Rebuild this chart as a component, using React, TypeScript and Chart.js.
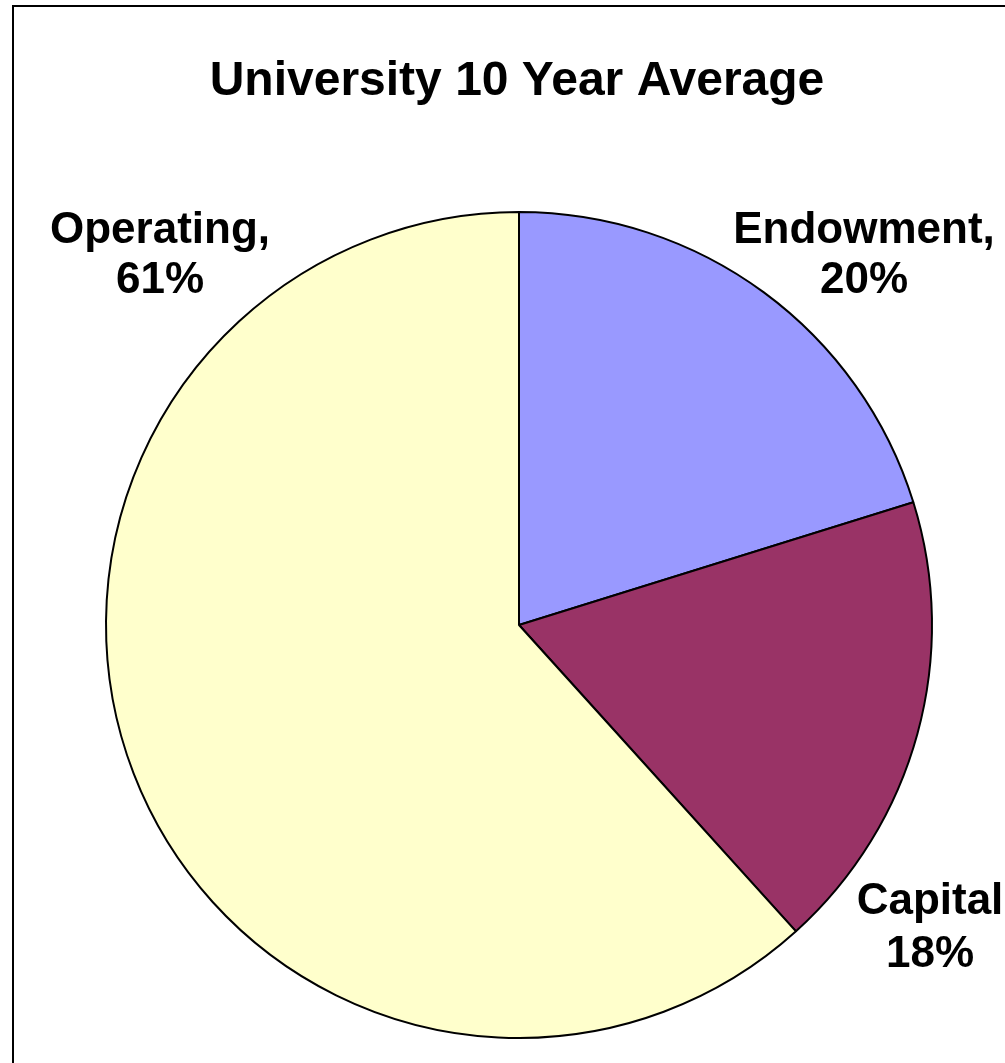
import React, { useEffect, useRef } from "react";
import { Chart, registerables } from "chart.js";

Chart.register(...registerables);

const categories = ["Endowment", "Capital", "Operating"];
const shares = [20.2, 18.1, 61.7];
const labelLines = [
  ["Endowment,", "20%"],
  ["Capital", "18%"],
  ["Operating,", "61%"],
];
const sliceColors = ["#9999FF", "#993366", "#FFFFCC"];
const chartTitle = "University 10 Year Average";

const FONT = "'Liberation Sans', Arial, Helvetica, sans-serif";

export default function App() {
  const ref = useRef<HTMLCanvasElement | null>(null);

  useEffect(() => {
    if (!ref.current) return;
    const labelPos = [
      { x: 864, y1: 231, y2: 281 },
      { x: 930, y1: 902, y2: 955 },
      { x: 160, y1: 231, y2: 281 },
    ];
    const textPlugin = {
      id: "textPlugin",
      afterDraw(chart: any) {
        const ctx = chart.ctx;
        ctx.save();
        ctx.fillStyle = "#000";
        ctx.textAlign = "center";
        ctx.textBaseline = "middle";
        ctx.font = `bold 48px ${FONT}`;
        ctx.fillText(chartTitle, 517, 82);
        ctx.font = `bold 44px ${FONT}`;
        labelLines.forEach((lines, i) => {
          const p = labelPos[i];
          ctx.fillText(lines[0], p.x, p.y1);
          ctx.fillText(lines[1], p.x, p.y2);
        });
        ctx.restore();
      },
    };
    const chart = new Chart(ref.current, {
      type: "pie",
      data: {
        labels: categories,
        datasets: [
          {
            data: shares,
            backgroundColor: sliceColors,
            borderColor: "#000000",
            borderWidth: 2,
          },
        ],
      },
      options: {
        animation: false,
        responsive: false,
        maintainAspectRatio: false,
        radius: 413,
        layout: { padding: { left: 106, right: 73, top: 212, bottom: 25 } },
        plugins: {
          legend: { display: false },
          title: { display: false },
          tooltip: { enabled: false },
        },
      } as any,
      plugins: [textPlugin],
    });
    return () => chart.destroy();
  }, []);

  return (
    <div
      style={{
        position: "absolute",
        left: 0,
        top: 0,
        width: 1005,
        height: 1063,
        background: "#fff",
        overflow: "hidden",
      }}
    >
      <canvas
        ref={ref}
        width={1005}
        height={1063}
        style={{ position: "absolute", left: 0, top: 0, width: 1005, height: 1063 }}
      />
      <div
        style={{
          position: "absolute",
          left: 12,
          top: 5,
          width: 1100,
          height: 1100,
          borderLeft: "2px solid #000",
          borderTop: "2px solid #000",
          pointerEvents: "none",
        }}
      />
    </div>
  );
}
